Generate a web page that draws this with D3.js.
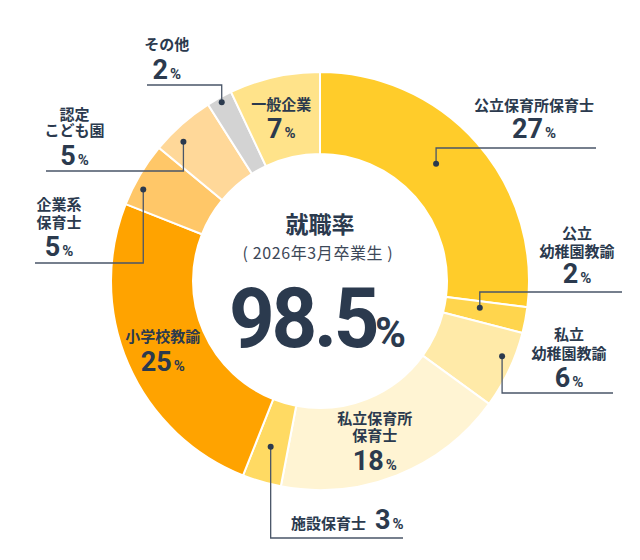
<!DOCTYPE html>
<html>
<head>
<meta charset="utf-8">
<script src="https://cdn.jsdelivr.net/npm/d3@7"></script>
<style>
  body { margin: 0; background: #fff; }
</style>
</head>
<body>
<div id="chart"></div>
<script>
// data, clockwise from 12 o'clock
const categories = ["公立保育所保育士", "公立\n幼稚園教諭", "私立\n幼稚園教諭", "私立保育所\n保育士", "施設保育士",
  "小学校教諭", "企業系\n保育士", "認定\nこども園", "その他", "一般企業"];
const values = [27, 2, 6, 18, 3, 25, 5, 5, 2, 7];
const colors = ["#ffcc2a", "#ffd54d", "#ffeaa8", "#fff4d3", "#ffda63", "#ffa300", "#ffc768", "#ffd899", "#d3d3d3", "#ffe38a"];

const centerTitle = "就職率";
const centerSub = "( 2026年3月卒業生 )";
const employmentRate = "98.5";

// label layout (pixels), same order as categories
// out: label block placed outside with an elbow leader; in: at arc centroid + offset
const labelLayout = [
  { x: 534, names: [104], pct: 138, lead: { t: 0.46, r: 165, y: 148, x: 596 } },
  { x: 577, names: [232, 250], pct: 283, lead: { t: 0.315, r: 162, y: 292, x: 622 } },
  { x: 569, names: [333, 352], pct: 387, lead: { t: 0.372, r: 197, y: 393, x: 613 } },
  { inside: true, dx: -7, names: [-20, -3], pct: 33 },
  { inline: true, x: 291, y: 529, lead: { t: 0.534, r: 173, y: 538, x: 403 } },
  { inside: true, dx: -3, names: [-12], pct: 23 },
  { x: 59, names: [203, 221], pct: 256, lead: { t: 0.32, r: 199, y: 263, x: 35 } },
  { x: 74.5, names: [113, 129.5], pct: 165, lead: { t: 0.33, r: 195, y: 171, x: 46 } },
  { x: 166.7, names: [43.5], pct: 79, lead: { t: 0.5, r: 204, y: 85, x: 147 } },
  { inside: true, dx: -2, names: [-14], pct: 21 }
];

const width = 640;
const height = 560;
const cx = 320, cy = 281;
const outerR = 209, innerR = 127;
const ink = "#2b3a4e";
const jp = "'Noto Sans CJK JP', 'Noto Sans', sans-serif";
const num = "Roboto, 'Noto Sans', sans-serif";

const svg = d3.select("#chart").append("svg")
  .attr("width", width)
  .attr("height", height)
  .attr("viewBox", [0, 0, width, height]);

const pie = d3.pie().sort(null).value(d => d);
const arcs = pie(values);
const arc = d3.arc().innerRadius(innerR).outerRadius(outerR);

const g = svg.append("g").attr("transform", `translate(${cx},${cy})`);

g.selectAll("path")
  .data(arcs)
  .join("path")
  .attr("d", arc)
  .attr("fill", (d, i) => colors[i])
  .attr("stroke", "#fff")
  .attr("stroke-width", 2);

// point inside a slice: t = fraction along the slice angle, r = radius
function polar(a, t, r) {
  const ang = a.startAngle + (a.endAngle - a.startAngle) * t;
  return [cx + r * Math.sin(ang), cy - r * Math.cos(ang)];
}

function pctText(sel, x, y, v, anchor) {
  const t = sel.append("text")
    .attr("x", x).attr("y", y)
    .attr("text-anchor", anchor || "middle")
    .attr("fill", ink)
    .attr("font-family", num)
    .attr("font-weight", 700);
  t.append("tspan").attr("font-size", 27).text(v);
  t.append("tspan").attr("font-size", 15).attr("dx", 2).text("%");
  return t;
}

function nameText(sel, x, y, s, anchor) {
  return sel.append("text")
    .attr("x", x).attr("y", y)
    .attr("text-anchor", anchor || "middle")
    .attr("dominant-baseline", "central")
    .attr("fill", ink)
    .attr("font-family", jp)
    .attr("font-size", 15)
    .attr("font-weight", 700)
    .text(s);
}

const labels = svg.append("g");

arcs.forEach((a, i) => {
  const L = labelLayout[i];
  const lines = categories[i].split("\n");

  if (L.lead) {
    const [px, py] = polar(a, L.lead.t, L.lead.r);
    labels.append("path")
      .attr("d", d3.line()([[px, py], [px, L.lead.y], [L.lead.x, L.lead.y]]))
      .attr("fill", "none")
      .attr("stroke", "#4a5668")
      .attr("stroke-width", 1.3);
    labels.append("circle")
      .attr("cx", px).attr("cy", py).attr("r", 3)
      .attr("fill", ink);
  }

  if (L.inside) {
    const [mx, my] = arc.centroid(a);
    const x = cx + mx + L.dx, y = cy + my;
    lines.forEach((s, k) => nameText(labels, x, y + L.names[k], s));
    pctText(labels, x, y + L.pct, values[i]);
  } else if (L.inline) {
    const n = nameText(labels, L.x, L.y - 7, lines[0], "start");
    const w = n.node().getComputedTextLength();
    pctText(labels, L.x + w + 9, L.y, values[i], "start");
  } else {
    lines.forEach((s, k) => nameText(labels, L.x, L.names[k], s));
    pctText(labels, L.x, L.pct, values[i]);
  }
});

// center block
svg.append("text")
  .attr("x", cx).attr("y", cy - 58)
  .attr("text-anchor", "middle")
  .attr("dominant-baseline", "central")
  .attr("fill", ink)
  .attr("font-family", jp)
  .attr("font-size", 23)
  .attr("font-weight", 700)
  .text(centerTitle);

svg.append("text")
  .attr("x", cx - 2).attr("y", cy - 29)
  .attr("text-anchor", "middle")
  .attr("dominant-baseline", "central")
  .attr("fill", "#3d4858")
  .attr("font-family", jp)
  .attr("font-size", 16)
  .attr("font-weight", 400)
  .attr("letter-spacing", 0.6)
  .text(centerSub);

// big rate, tight spacing
svg.append("text")
  .attr("transform", `translate(${cx - 91},${cy + 66}) scale(0.95,1)`)
  .attr("fill", ink)
  .attr("font-family", num)
  .attr("font-size", 84)
  .attr("font-weight", 700)
  .attr("letter-spacing", -3.5)
  .text(employmentRate);

svg.append("text")
  .attr("x", cx + 55).attr("y", cy + 66)
  .attr("fill", ink)
  .attr("font-family", num)
  .attr("font-size", 42)
  .attr("font-weight", 700)
  .text("%");
</script>
</body>
</html>
